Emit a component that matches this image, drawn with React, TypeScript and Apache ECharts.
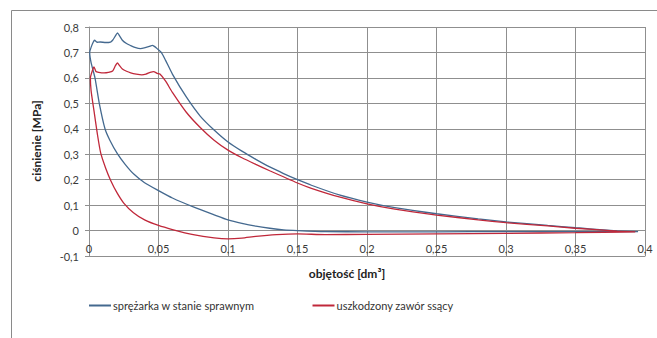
import React, { useEffect, useRef } from "react";
import * as echarts from "echarts";

const xTicks = [0, 0.05, 0.1, 0.15, 0.2, 0.25, 0.3, 0.35, 0.4];
const yTicks = [-0.1, 0, 0.1, 0.2, 0.3, 0.4, 0.5, 0.6, 0.7, 0.8];
const seriesNames = ["sprężarka w stanie sprawnym", "uszkodzony zawór ssący"];
const xTitle = "objętość [dm³]";
const yTitle = "ciśnienie [MPa]";

// sprężarka w stanie sprawnym (blue loop)
const blueCompression: number[][] = [
  [0.395, -0.004], [0.38, -0.001], [0.36, 0.007], [0.35, 0.011], [0.33, 0.02],
  [0.3, 0.034], [0.28, 0.046], [0.25, 0.066], [0.22, 0.09], [0.2, 0.112],
  [0.18, 0.14], [0.16, 0.178], [0.15, 0.2], [0.14, 0.224], [0.13, 0.25],
  [0.12, 0.28], [0.11, 0.312], [0.1, 0.348], [0.09, 0.395], [0.08, 0.45],
  [0.07, 0.525], [0.06, 0.615], [0.055, 0.67], [0.052, 0.7],
];
const blueDischarge: number[][] = [
  [0.049, 0.715], [0.047, 0.724], [0.0455, 0.728], [0.044, 0.725], [0.041, 0.72],
  [0.037, 0.715], [0.033, 0.72], [0.03, 0.727], [0.027, 0.735], [0.024, 0.748],
  [0.022, 0.765], [0.0205, 0.777], [0.019, 0.765], [0.017, 0.748], [0.0155, 0.741],
  [0.012, 0.739], [0.008, 0.741], [0.006, 0.74], [0.004, 0.748], [0.003, 0.74],
  [0.0015, 0.72], [0.0005, 0.7],
];
const blueExpansion: number[][] = [
  [0.0015, 0.66], [0.0043, 0.6], [0.0074, 0.5], [0.0115, 0.4], [0.015, 0.355],
  [0.0204, 0.302], [0.026, 0.26], [0.032, 0.223], [0.04, 0.188], [0.05, 0.157],
  [0.06, 0.128], [0.0755, 0.092], [0.09, 0.062], [0.1, 0.042], [0.11, 0.028],
  [0.12, 0.017], [0.13, 0.009], [0.14, 0.003], [0.15, 0.0], [0.17, -0.004],
];
const blueSuction: number[][] = [
  [0.2, -0.005], [0.25, -0.005], [0.3, -0.004], [0.35, -0.004], [0.395, -0.004],
];

// uszkodzony zawór ssący (red loop)
const redCompression: number[][] = [
  [0.393, -0.005], [0.38, -0.002], [0.35, 0.009], [0.33, 0.018], [0.3, 0.031],
  [0.28, 0.042], [0.25, 0.061], [0.22, 0.084], [0.2, 0.105], [0.18, 0.132],
  [0.16, 0.166], [0.15, 0.187], [0.13, 0.235], [0.12, 0.26], [0.11, 0.286],
  [0.1, 0.316], [0.09, 0.355], [0.08, 0.405], [0.07, 0.465], [0.06, 0.543],
  [0.055, 0.588], [0.051, 0.615],
];
const redDischarge: number[][] = [
  [0.049, 0.618], [0.0465, 0.625], [0.044, 0.622], [0.041, 0.615], [0.038, 0.612],
  [0.034, 0.615], [0.03, 0.62], [0.027, 0.626], [0.024, 0.635], [0.022, 0.648],
  [0.0204, 0.659], [0.019, 0.648], [0.017, 0.627], [0.014, 0.622], [0.0108, 0.62],
  [0.007, 0.622], [0.005, 0.625], [0.0036, 0.643], [0.0024, 0.628], [0.001, 0.6],
];
const redExpansion: number[][] = [
  [0.0015, 0.55], [0.0036, 0.47], [0.006, 0.38], [0.0084, 0.305], [0.012, 0.245],
  [0.0156, 0.197], [0.02, 0.15], [0.025, 0.108], [0.032, 0.07], [0.04, 0.042],
  [0.05, 0.02], [0.06, 0.004], [0.075, -0.016], [0.09, -0.029], [0.1, -0.033],
  [0.11, -0.03], [0.12, -0.023], [0.135, -0.016], [0.15, -0.013], [0.17, -0.016],
];
const redSuction: number[][] = [
  [0.2, -0.015], [0.25, -0.013], [0.3, -0.011], [0.35, -0.008], [0.393, -0.005],
];

const blueColor = "#44698f";
const redColor = "#c0283a";
const gridColor = "#8f8f8f";
const font = "Lato, 'Liberation Sans', sans-serif";

const fmt = (v: number) => String(Number(v.toFixed(2))).replace(".", ",");

export default function App() {
  const ref = useRef<HTMLDivElement>(null);
  useEffect(() => {
    if (!ref.current) return;
    const chart = echarts.init(ref.current, undefined, { renderer: "svg" });
    const blue = [...blueCompression, ...blueDischarge, ...blueExpansion, ...blueSuction];
    const red = [...redCompression, ...redDischarge, ...redExpansion, ...redSuction];
    chart.setOption({
      animation: false,
      backgroundColor: "#ffffff",
      textStyle: { fontFamily: font },
      grid: { left: 89, top: 27, width: 556, height: 229, containLabel: false },
      xAxis: {
        type: "value",
        min: xTicks[0],
        max: xTicks[xTicks.length - 1],
        interval: 0.05,
        axisLine: { onZero: false, lineStyle: { color: gridColor, width: 1 } },
        axisTick: { show: false },
        axisLabel: { formatter: fmt, color: "#3a3a3a", fontSize: 11, margin: -13, fontFamily: font },
        splitLine: { show: true, lineStyle: { color: gridColor, width: 1 } },
      },
      yAxis: {
        type: "value",
        min: yTicks[0],
        max: yTicks[yTicks.length - 1],
        interval: 0.1,
        axisLine: { show: true, onZero: false, lineStyle: { color: gridColor, width: 1 } },
        axisTick: { show: true, length: 4, lineStyle: { color: gridColor } },
        axisLabel: { formatter: fmt, color: "#3a3a3a", fontSize: 11, margin: 10, fontFamily: font },
        splitLine: { show: true, lineStyle: { color: gridColor, width: 1 } },
      },
      legend: {
        left: 84,
        top: 295,
        itemGap: 58,
        itemWidth: 22,
        itemHeight: 2,
        icon: "rect",
        textStyle: { fontSize: 11, color: "#333", fontFamily: font, padding: [0, 0, 0, -3] },
        data: seriesNames,
      },
      series: [
        {
          name: seriesNames[0],
          type: "line",
          data: blue,
          showSymbol: false,
          smooth: 0.2,
          lineStyle: { color: blueColor, width: 1.3 },
          itemStyle: { color: blueColor },
        },
        {
          name: seriesNames[1],
          type: "line",
          data: red,
          showSymbol: false,
          smooth: 0.2,
          lineStyle: { color: redColor, width: 1.3 },
          itemStyle: { color: redColor },
        },
      ],
      graphic: [
        {
          type: "rect",
          shape: { x: 11.5, y: 10.5, width: 800, height: 500 },
          style: { fill: "none", stroke: "#8a8a8a", lineWidth: 1 },
          silent: true,
        },
        {
          type: "text",
          x: 36,
          y: 141,
          rotation: Math.PI / 2,
          style: {
            text: yTitle,
            font: `bold 12px ${font}`,
            fill: "#222",
            align: "center",
            verticalAlign: "middle",
          },
        },
        {
          type: "text",
          x: 347,
          y: 273,
          style: {
            text: xTitle,
            font: `bold 12px ${font}`,
            fill: "#222",
            align: "center",
            verticalAlign: "middle",
          },
        },
      ],
    });
    return () => chart.dispose();
  }, []);
  return (
    <div
      ref={ref}
      style={{ position: "fixed", left: 0, top: 0, width: 657, height: 338, background: "#fff" }}
    />
  );
}
